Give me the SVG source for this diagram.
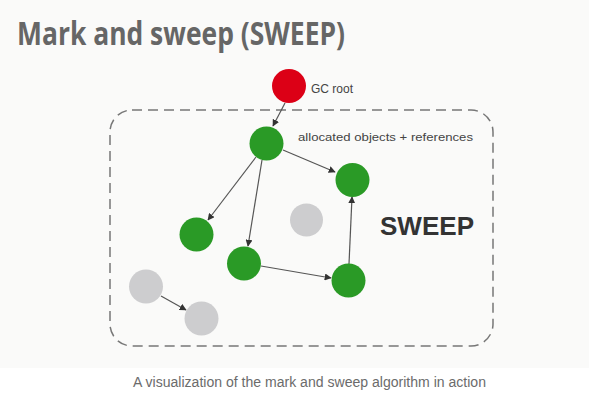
<svg xmlns="http://www.w3.org/2000/svg" width="589" height="419" viewBox="0 0 589 419">
<style>
.g{fill:#2a9a26}
.x{fill:#cdcdcf}
.e{stroke:#555;stroke-width:1.2;fill:none;marker-end:url(#ah)}
.l{font-family:"Liberation Sans",Arial,sans-serif;fill:#444}
</style>
<defs>
<marker id="ah" viewBox="0 0 10 10" refX="9" refY="5" markerWidth="7" markerHeight="7" orient="auto" markerUnits="userSpaceOnUse"><path d="M0,0 L10,5 L0,10 z" fill="#333"/></marker>
</defs>
<rect width="589" height="368" fill="#fafaf9"/>
<rect y="368" width="589" height="51" fill="#fff"/>
<text x="17" y="45" font-family="'Open Sans','DejaVu Sans',sans-serif" font-weight="bold" font-size="33" fill="#666" textLength="328" lengthAdjust="spacingAndGlyphs">Mark and sweep (SWEEP)</text>
<rect x="110" y="110" width="383" height="236" rx="22" fill="none" stroke="#777" stroke-width="1.5" stroke-dasharray="10 6"/>
<g id="connectors">
<line class="e" x1="285" y1="103" x2="273" y2="126"/>
<line class="e" x1="283" y1="150" x2="335" y2="172"/>
<line class="e" x1="256" y1="157" x2="208" y2="220"/>
<line class="e" x1="262" y1="160" x2="248" y2="246"/>
<line class="e" x1="261" y1="266" x2="331" y2="278"/>
<line class="e" x1="349" y1="264" x2="352" y2="197"/>
<line class="e" x1="161" y1="296" x2="186" y2="310"/>
</g>
<g id="root"><circle cx="289" cy="86" r="17" fill="#dc0016"/><text class="l" x="311" y="93" font-size="12">GC root</text></g>
<g id="a"><circle class="g" cx="266.5" cy="143.5" r="17"/><text class="l" x="298" y="141" font-size="11" textLength="175" lengthAdjust="spacingAndGlyphs">allocated objects + references</text></g>
<g id="b"><circle class="g" cx="352.5" cy="180" r="17"/></g>
<g id="c"><circle class="g" cx="196.5" cy="234.5" r="17"/></g>
<g id="d"><circle class="g" cx="244" cy="263.5" r="17"/></g>
<g id="e"><circle class="g" cx="348.5" cy="280.5" r="17"/></g>
<g id="h"><circle class="x" cx="306.5" cy="220" r="16.5"/></g>
<g id="f"><circle class="x" cx="146" cy="286.5" r="17"/></g>
<g id="gg"><circle class="x" cx="201.5" cy="318.5" r="17"/></g>
<text x="380" y="235" font-family="'Liberation Sans',Arial,sans-serif" font-weight="bold" font-size="25" fill="#333" textLength="94" lengthAdjust="spacingAndGlyphs">SWEEP</text>
<text x="133" y="387" font-family="'Liberation Sans',Arial,sans-serif" font-size="14" fill="#6b6b6b" textLength="353" lengthAdjust="spacingAndGlyphs">A visualization of the mark and sweep algorithm in action</text>
</svg>
